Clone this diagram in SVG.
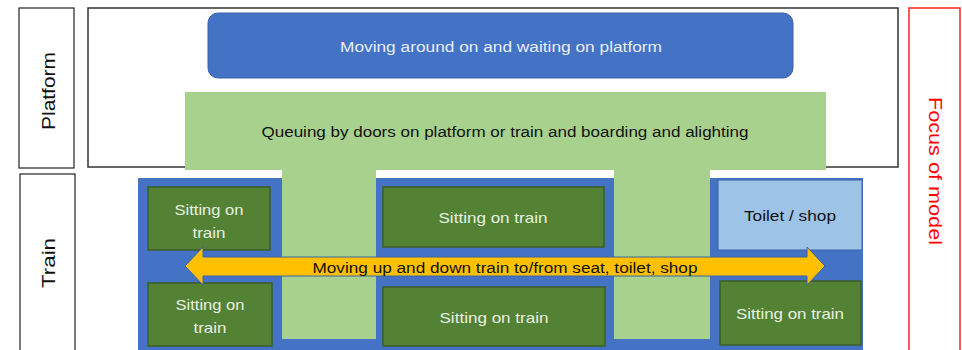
<svg xmlns="http://www.w3.org/2000/svg" width="962" height="350" viewBox="0 0 962 350">
<style>
text{font-family:"Liberation Sans",Arial,sans-serif;text-anchor:middle;dominant-baseline:central}
.lbl{fill:#fff;stroke:#222;stroke-width:1.2}
.seat{fill:#548235;stroke:#3b5e27;stroke-width:1.5}
.wt{fill:#e8f0e0;font-size:15px}
.side{font-size:19px}
</style>
<rect width="962" height="350" fill="#fff"/>
<g id="platform-label"><rect class="lbl" x="19" y="8" width="55" height="160"/><text class="side" x="48" y="91" textLength="78" lengthAdjust="spacingAndGlyphs" transform="rotate(-90 48 91)" fill="#111">Platform</text></g>
<g id="train-label"><rect class="lbl" x="20" y="174" width="55" height="190"/><text class="side" x="48" y="263" textLength="50" lengthAdjust="spacingAndGlyphs" transform="rotate(-90 48 263)" fill="#111">Train</text></g>
<g id="platform-area"><rect x="88" y="8" width="810" height="159" fill="#fff" stroke="#333" stroke-width="1.5"/></g>
<g id="focus"><rect x="909" y="8" width="51" height="360" fill="none" stroke="#f22" stroke-width="1.5"/><text class="side" x="935" y="171" textLength="148" lengthAdjust="spacingAndGlyphs" fill="#f00" transform="rotate(90 935 171)">Focus of model</text></g>
<g id="train-area"><rect x="138" y="178" width="725" height="180" fill="#4472c4"/></g>
<g id="queue"><path d="M185 92H826V170H710V339H614V170H376V339H282V170H185Z" fill="#a9d18e"/><text x="505" y="131" font-size="15.5" textLength="487" lengthAdjust="spacingAndGlyphs" fill="#111">Queuing by doors on platform or train and boarding and alighting</text></g>
<g id="platform-move"><rect x="208" y="13" width="585" height="65" rx="10" fill="#4472c4" stroke="#3a62a8" stroke-width="1"/><text x="501" y="46" font-size="15.5" textLength="322" lengthAdjust="spacingAndGlyphs" fill="#e8eef8">Moving around on and waiting on platform</text></g>
<g id="seat1"><rect class="seat" x="148" y="187" width="122" height="63"/><text class="wt" x="209" y="209" textLength="69" lengthAdjust="spacingAndGlyphs">Sitting on</text><text class="wt" x="209" y="232" textLength="33" lengthAdjust="spacingAndGlyphs">train</text></g>
<g id="seat2"><rect class="seat" x="148" y="283" width="124" height="63"/><text class="wt" x="210" y="304" textLength="69" lengthAdjust="spacingAndGlyphs">Sitting on</text><text class="wt" x="210" y="327" textLength="33" lengthAdjust="spacingAndGlyphs">train</text></g>
<g id="seat3"><rect class="seat" x="383" y="187" width="221" height="60"/><text class="wt" x="493" y="217" textLength="109" lengthAdjust="spacingAndGlyphs">Sitting on train</text></g>
<g id="seat4"><rect class="seat" x="383" y="287" width="222" height="59"/><text class="wt" x="494" y="317" textLength="109" lengthAdjust="spacingAndGlyphs">Sitting on train</text></g>
<g id="seat5"><rect class="seat" x="720" y="281" width="141" height="64"/><text class="wt" x="790" y="313" textLength="108" lengthAdjust="spacingAndGlyphs">Sitting on train</text></g>
<g id="toilet"><rect x="718" y="180" width="144" height="70" fill="#9dc3e6" stroke="#3a62a8" stroke-width="1"/><text x="790" y="215" font-size="15.5" textLength="92" lengthAdjust="spacingAndGlyphs" fill="#111">Toilet / shop</text></g>
<g id="connectors"><path d="M185 266L203 247V257H807V247L825 266L807 285V276H203V285Z" fill="#ffc000" stroke="#3a62a8" stroke-width="1"/><text x="505" y="267" font-size="15.5" textLength="385" lengthAdjust="spacingAndGlyphs" fill="#111">Moving up and down train to/from seat, toilet, shop</text></g>
</svg>
